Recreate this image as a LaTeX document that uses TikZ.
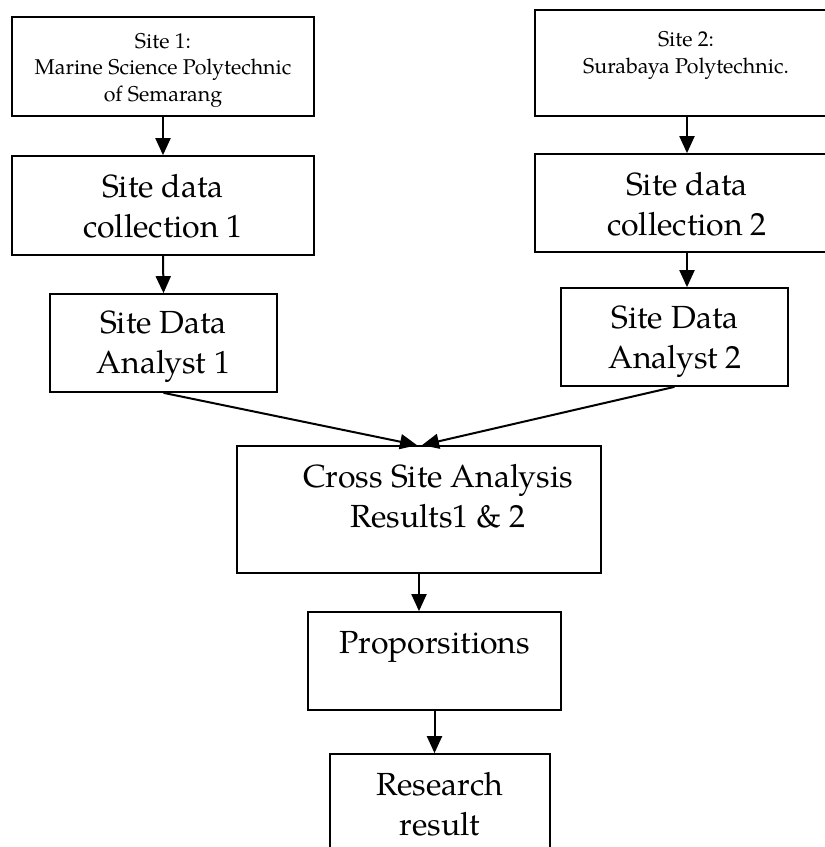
\documentclass[tikz,border=0pt]{standalone}
\usepackage{fontspec}
\setmainfont{TeX Gyre Pagella}
\usetikzlibrary{arrows.meta}
\begin{document}
\begin{tikzpicture}[x=1pt,y=-1pt,
  box/.style={draw=black, line width=1.7pt, rectangle, inner sep=0pt},
  big/.style={font=\fontsize{32}{39.5}\selectfont, align=center, inner sep=0pt, anchor=base},
  small/.style={font=\fontsize{21.4}{26.5}\selectfont, align=center, inner sep=0pt, anchor=base},
  flow/.style={line width=2pt, -{Triangle[length=17pt,width=15pt]}}]
\useasboundingbox (0,0) rectangle (825,847);
\fill[white] (0,0) rectangle (825,847);
\begin{scope}
\clip (0,0) rectangle (825,847);
% boxes
\node[box, minimum width=302pt, minimum height=99pt]  (b1) at (163,66.5) {};
\node[box, minimum width=302pt, minimum height=99pt]  (b2) at (163,205.5) {};
\node[box, minimum width=227pt, minimum height=98pt]  (b3) at (163.5,343) {};
\node[box, minimum width=304pt, minimum height=106pt] (b4) at (687,63) {};
\node[box, minimum width=304pt, minimum height=98pt]  (b5) at (687,203) {};
\node[box, minimum width=227pt, minimum height=98pt]  (b6) at (674.5,337) {};
\node[box, minimum width=364pt, minimum height=127pt] (b7) at (419,509.5) {};
\node[box, minimum width=253pt, minimum height=98pt]  (b8) at (434.5,661) {};
\node[box, minimum width=220pt, minimum height=126pt] (b9) at (440,817) {};
% labels (placed by the baseline of their last line)
\node[small] (t1) at (163,101)  {Site 1:\\Marine Science Polytechnic\\of Semarang};
\node[big]   (t2) at (163,237)  {Site data\\collection 1};
\node[big]   (t3) at (163.5,373){Site Data\\Analyst 1};
\node[small] (t4) at (686,73)   {Site 2:\\Surabaya Polytechnic.};
\node[big]   (t5) at (687,235)  {Site data\\collection 2};
\node[big]   (t6) at (675,368)  {Site Data\\Analyst 2};
\node[big]   (t7) at (438,527)  {Cross Site Analysis\\Results1 \& 2};
\node[big]   (t8) at (434.5,653){Proporsitions};
\node[big]   (t9) at (440,835)  {Research\\result};
% connectors
\draw[flow] (b1.south) -- (b2.north);
\draw[flow] (b2.south) -- (b3.north);
\draw[flow] (b4.south) -- (b5.north);
\draw[flow] (b5.south) -- (b5.south |- b6.north);
\draw[flow] (b3.south) -- ([xshift=-2pt]b7.north);
\draw[flow] (b6.south) -- ([xshift=3pt]b7.north);
\draw[flow] (b7.south) -- (b7.south |- b8.north);
\draw[flow] (b8.south) -- (b8.south |- b9.north);
\end{scope}
\end{tikzpicture}
\end{document}
